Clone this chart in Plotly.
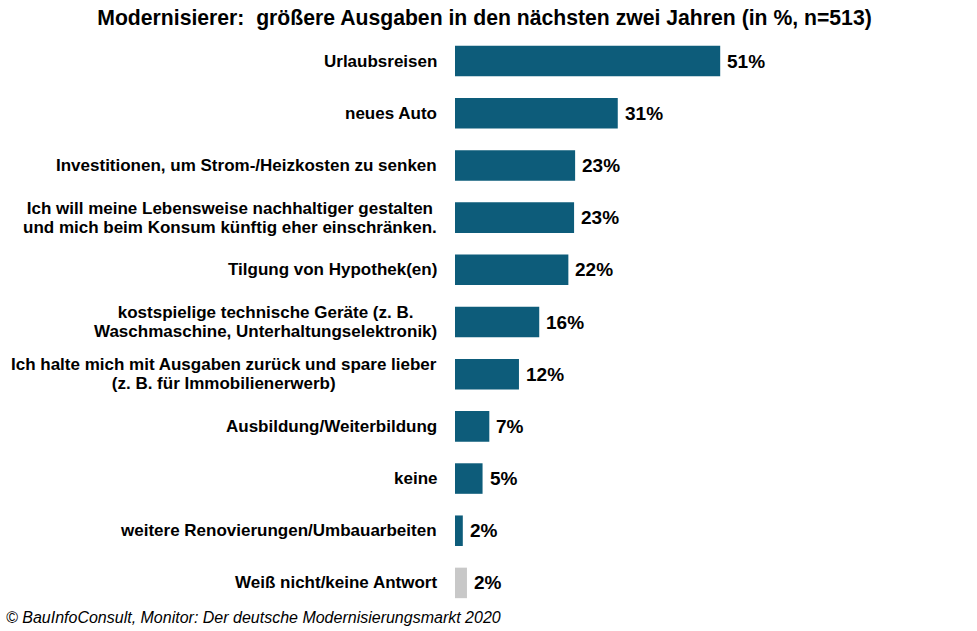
import plotly.graph_objects as go

categories = [
    "Urlaubsreisen",
    "neues Auto",
    "Investitionen, um Strom-/Heizkosten zu senken",
    "Ich will meine Lebensweise nachhaltiger gestalten<br>und mich beim Konsum künftig eher einschränken.",
    "Tilgung von Hypothek(en)",
    "kostspielige technische Geräte (z. B.<br>Waschmaschine, Unterhaltungselektronik)",
    "Ich halte mich mit Ausgaben zurück und spare lieber<br>(z. B. für Immobilienerwerb)",
    "Ausbildung/Weiterbildung",
    "keine",
    "weitere Renovierungen/Umbauarbeiten",
    "Weiß nicht/keine Antwort",
]
values = [51.0, 31.3, 23.1, 22.9, 21.8, 16.2, 12.3, 6.6, 5.3, 1.5, 2.3]
labels = ["51%", "31%", "23%", "23%", "22%", "16%", "12%", "7%", "5%", "2%", "2%"]
colors = ["#0d5c7a"] * 10 + ["#c8c8c8"]

title = "Modernisierer:\u00a0 größere Ausgaben in den nächsten zwei Jahren (in %, n=513)"
footer = "© BauInfoConsult, Monitor: Der deutsche Modernisierungsmarkt 2020"

FONT = "Liberation Sans, Arial, sans-serif"
W, H = 977, 631
ML, MR, MT, MB = 455, 20, 35, 22
plot_w = W - ML - MR
px_per_unit = 5.2

ids = list(range(len(categories)))

fig = go.Figure(
    go.Bar(
        x=values,
        y=ids,
        orientation="h",
        marker=dict(color=colors, line=dict(width=0)),
        width=0.585,
        hoverinfo="skip",
    )
)


def styled(cat):
    parts = cat.split("<br>")
    return "<br>".join(f'<span style="font-size:17px"><b>{p}</b></span>' for p in parts)


annotations = []
for i, (v, lab, cat) in enumerate(zip(values, labels, categories)):
    annotations.append(dict(
        x=v, y=i, xref="x", yref="y", text=f"<b>{lab}</b>",
        showarrow=False, xanchor="left", yanchor="middle", xshift=5,
        font=dict(family=FONT, size=19, color="#000000"),
    ))
    annotations.append(dict(
        x=0, y=i, xref="paper", yref="y", text=styled(cat),
        showarrow=False, xanchor="right", yanchor="middle", xshift=-16,
        align="center",
        font=dict(family=FONT, size=14.4, color="#000000"),
    ))

annotations.append(dict(
    x=-ML / plot_w + 4 / plot_w, y=0, xref="paper", yref="paper",
    text=f"<i>{footer}</i>", showarrow=False, xanchor="left", yanchor="middle",
    yshift=-8, font=dict(family=FONT, size=16, color="#000000"),
))

fig.update_layout(
    width=W, height=H,
    margin=dict(l=ML, r=MR, t=MT, b=MB, pad=0),
    paper_bgcolor="white", plot_bgcolor="white",
    showlegend=False,
    title=dict(
        text=f"<b>{title}</b>", x=484.5 / W, xref="container", xanchor="center",
        y=1 - 18 / H, yref="container", yanchor="middle",
        font=dict(family=FONT, size=21.2, color="#000000"),
    ),
    xaxis=dict(range=[0, plot_w / px_per_unit], visible=False, fixedrange=True),
    yaxis=dict(range=[len(categories) - 0.5, -0.5], visible=False, fixedrange=True),
    annotations=annotations,
)

fig.write_html(
    "out.html",
    config=dict(displayModeBar=False, staticPlot=True),
    post_script="document.body.style.margin='0';document.body.style.padding='0';",
)
